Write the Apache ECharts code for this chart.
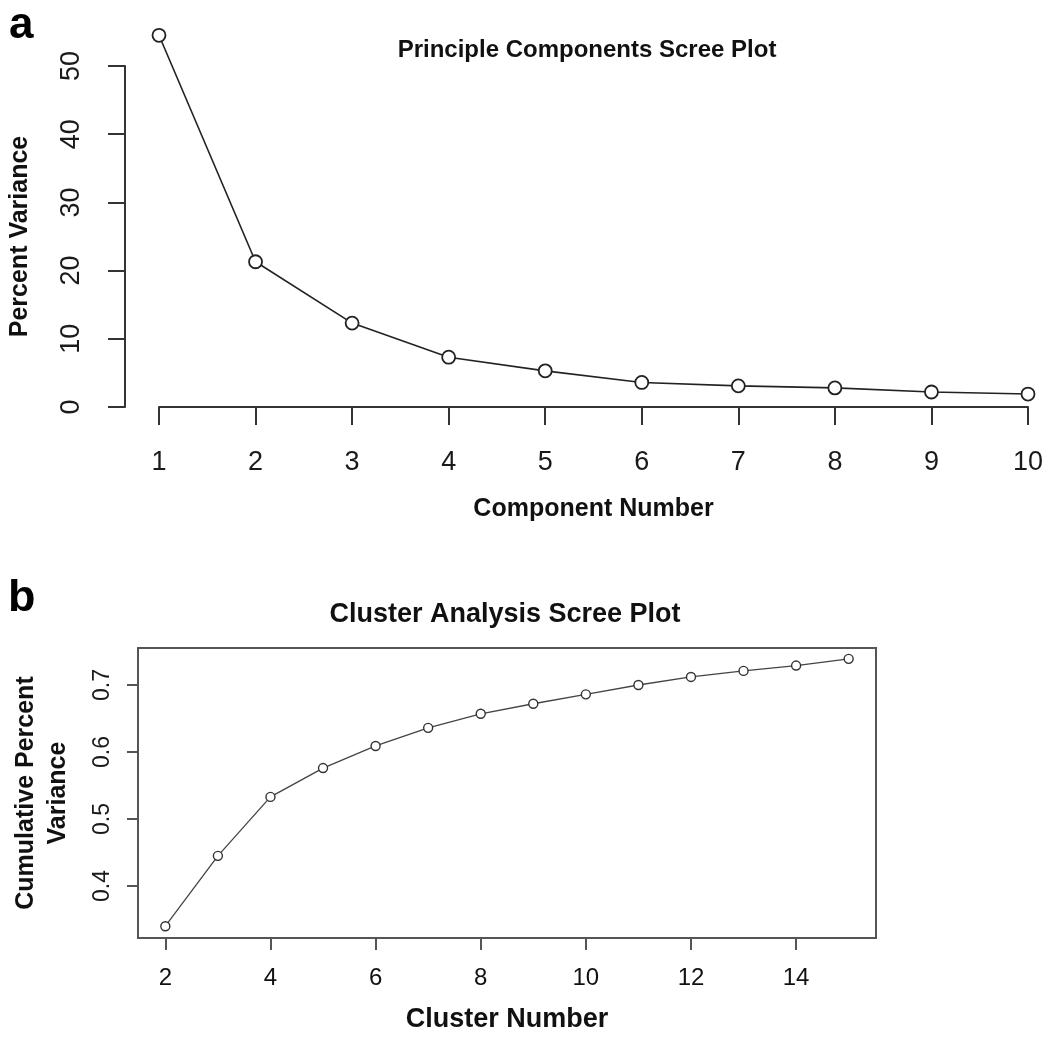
<!DOCTYPE html>
<html>
<head>
<meta charset="utf-8">
<script src="https://cdn.jsdelivr.net/npm/echarts@6/dist/echarts.min.js"></script>
<style>
html,body{margin:0;padding:0;background:#fff;}
#chart{width:1050px;height:1041px;}
</style>
</head>
<body>
<div id="chart"></div>
<script>
// ---- Panel a: PCA scree plot ----
const componentNumbers = [1, 2, 3, 4, 5, 6, 7, 8, 9, 10];
const percentVariance = [54.5, 21.3, 12.3, 7.3, 5.3, 3.6, 3.1, 2.8, 2.2, 1.9];
const pcaYTicks = [0, 10, 20, 30, 40, 50];

// ---- Panel b: cluster analysis scree plot ----
const clusterNumbers = [2, 3, 4, 5, 6, 7, 8, 9, 10, 11, 12, 13, 14, 15];
const cumulativeVariance = [0.340, 0.445, 0.533, 0.576, 0.609, 0.636, 0.657, 0.672, 0.686, 0.700, 0.712, 0.721, 0.729, 0.739];
const clusterXTicks = [2, 4, 6, 8, 10, 12, 14];
const clusterYTicks = [0.4, 0.5, 0.6, 0.7];

const FONT = '"Liberation Sans", Arial, Helvetica, sans-serif';

const chart = echarts.init(document.getElementById('chart'), null, {renderer: 'canvas'});

const axisLineA = {show: true, lineStyle: {color: '#333', width: 2}};

const option = {
  backgroundColor: '#ffffff',
  animation: false,
  textStyle: {fontFamily: FONT},
  grid: [
    {left: 157, top: 66, width: 871, height: 341, show: false},
    {left: 138, top: 648, width: 738, height: 290, show: true, borderColor: '#555', borderWidth: 2, backgroundColor: 'transparent'}
  ],
  xAxis: [
    {
      gridIndex: 0, type: 'value', min: 1, max: 10, interval: 1, offset: 2,
      axisLine: axisLineA,
      axisTick: {show: true, inside: false, length: 18, lineStyle: {color: '#333', width: 2}},
      axisLabel: {show: true, margin: 40, fontSize: 27, color: '#1a1a1a', fontFamily: FONT},
      splitLine: {show: false},
      name: 'Component Number', nameLocation: 'middle', nameGap: 88,
      nameTextStyle: {fontSize: 25, fontWeight: 'bold', color: '#111', fontFamily: FONT}
    },
    {
      gridIndex: 1, type: 'value', min: 1.48, max: 15.52,
      axisLine: {show: false},
      axisTick: {show: true, inside: false, length: 12, customValues: clusterXTicks, lineStyle: {color: '#555', width: 2}},
      axisLabel: {show: true, margin: 28, fontSize: 24, color: '#111', fontFamily: FONT, customValues: clusterXTicks},
      splitLine: {show: false},
      name: 'Cluster Number', nameLocation: 'middle', nameGap: 68,
      nameTextStyle: {fontSize: 27, fontWeight: 'bold', color: '#111', fontFamily: FONT}
    }
  ],
  yAxis: [
    {
      gridIndex: 0, type: 'value', min: pcaYTicks[0], max: pcaYTicks[pcaYTicks.length - 1], interval: 10, offset: 34,
      axisLine: axisLineA,
      axisTick: {show: true, inside: false, length: 17, lineStyle: {color: '#333', width: 2}},
      axisLabel: {show: true, rotate: 90, margin: 40, fontSize: 27, color: '#1a1a1a', fontFamily: FONT},
      splitLine: {show: false},
      name: 'Percent Variance', nameLocation: 'middle', nameGap: 92, nameRotate: 90,
      nameTextStyle: {fontSize: 25, fontWeight: 'bold', color: '#111', fontFamily: FONT}
    },
    {
      gridIndex: 1, type: 'value', min: 0.3224, max: 0.7552,
      axisLine: {show: false},
      axisTick: {show: true, inside: false, length: 11, customValues: clusterYTicks, lineStyle: {color: '#555', width: 2}},
      axisLabel: {show: true, rotate: 90, margin: 24, fontSize: 23, color: '#1a1a1a', fontFamily: FONT, customValues: clusterYTicks,
        formatter: v => String(Math.round(v * 10) / 10)},
      splitLine: {show: false},
      name: 'Cumulative Percent\nVariance', nameLocation: 'middle', nameGap: 64, nameRotate: 90,
      nameTextStyle: {fontSize: 25, fontWeight: 'bold', color: '#111', fontFamily: FONT, lineHeight: 32, align: 'center'}
    }
  ],
  series: [
    {
      type: 'line', xAxisIndex: 0, yAxisIndex: 0, clip: false,
      data: componentNumbers.map((c, i) => [c, percentVariance[i]]),
      symbol: 'circle', symbolSize: 13,
      itemStyle: {color: '#ffffff', borderColor: '#222', borderWidth: 1.8},
      lineStyle: {color: '#222', width: 1.6},
      z: 3
    },
    {
      type: 'line', xAxisIndex: 1, yAxisIndex: 1, clip: false,
      data: clusterNumbers.map((c, i) => [c, cumulativeVariance[i]]),
      symbol: 'circle', symbolSize: 9,
      itemStyle: {color: '#ffffff', borderColor: '#333', borderWidth: 1.4},
      lineStyle: {color: '#444', width: 1.3},
      z: 3
    }
  ],
  graphic: [
    {type: 'text', left: 9, top: 4, style: {text: 'a', font: 'bold 44px ' + FONT, fill: '#000'}},
    {type: 'text', left: 8, top: 576, style: {text: 'b', font: 'bold 45px ' + FONT, fill: '#000'}},
    {type: 'text', x: 587, y: 50, style: {text: 'Principle Components Scree Plot', font: 'bold 24px ' + FONT, fill: '#111', align: 'center', verticalAlign: 'middle'}},
    {type: 'text', x: 505, y: 615, style: {text: 'Cluster Analysis Scree Plot', font: 'bold 27px ' + FONT, fill: '#111', align: 'center', verticalAlign: 'middle'}}
  ]
};

chart.setOption(option);
</script>
</body>
</html>
